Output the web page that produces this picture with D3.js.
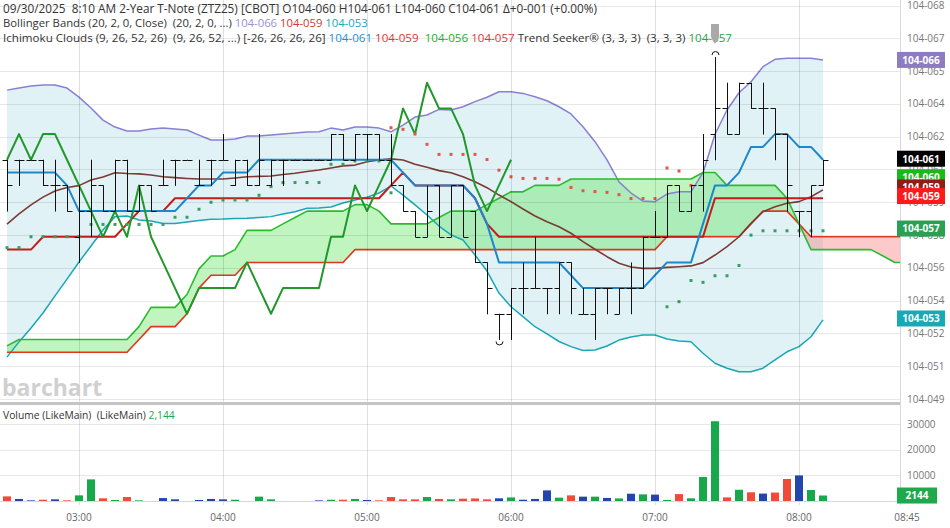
<!DOCTYPE html>
<html><head><meta charset="utf-8">
<script src="https://cdn.jsdelivr.net/npm/d3@7/dist/d3.min.js"></script>
<style>
body{margin:0;background:#fff;}
svg{display:block;font-family:"Open Sans",sans-serif;}
text{white-space:pre;}
</style></head><body>
<svg id="c" width="950" height="528"></svg>
<script>
// ---------- DATA (prices in 32nds above 104, e.g. 6.125 = 104-061) ----------
const opens = [6.125,6.125,6.125,6.125,6.0,6.0,5.75,5.875,6.0,5.875, 6.125,5.875,6.0,6.0,6.125,6.125,6.0,6.125,6.125,6.0, 6.125,6.0,6.0,6.125,6.125,6.125,6.125,6.125,6.25,6.125, 6.25,6.25,6.125,6.0,5.875,5.75,6.0,5.75,6.0,5.875, 5.625,5.375,5.375,5.5,5.5,5.5,5.5,5.625,5.375,5.375, 5.5,5.375,5.5,5.5,5.75,5.75,6.0,5.875,6.0,6.25, 6.375,6.25,6.5,6.375,6.375,6.25,5.875,5.875,6.0];
const highs = [6.125,6.125,6.125,6.125,6.125,6.0,6.0,6.125,6.0,6.125, 6.125,6.0,6.0,6.125,6.125,6.125,6.125,6.125,6.25,6.125, 6.125,6.25,6.125,6.125,6.125,6.125,6.125,6.25,6.25,6.25, 6.25,6.25,6.25,6.0,5.875,6.0,6.0,6.0,6.0,5.875, 5.625,5.375,5.5,5.625,5.75,5.5,5.625,5.625,5.5,5.5, 5.5,5.5,5.625,5.75,5.875,6.0,6.0,6.0,6.25,6.625, 6.5,6.5,6.5,6.5,6.375,6.25,5.875,6.0,6.125];
const lows = [5.875,6.0,6.125,6.0,5.875,5.875,5.625,5.75,5.875,5.875, 5.875,5.875,5.875,6.0,6.0,6.125,6.0,6.0,6.125,6.0, 6.0,6.0,6.0,6.0,6.125,6.125,6.125,6.125,6.125,6.125, 6.125,6.125,6.0,5.875,5.75,5.75,5.75,5.75,5.75,5.625, 5.375,5.25,5.25,5.375,5.5,5.375,5.375,5.375,5.375,5.25, 5.375,5.375,5.375,5.5,5.75,5.75,5.875,5.875,5.875,6.125, 6.25,6.25,6.375,6.25,6.125,5.875,5.75,5.75,6.0];
const closes = [6.0,6.125,6.125,6.0,6.0,5.875,5.875,6.0,5.875,6.125, 5.875,6.0,5.875,6.0,6.125,6.125,6.0,6.125,6.125,6.125, 6.0,6.125,6.125,6.125,6.125,6.125,6.125,6.25,6.125,6.25, 6.25,6.125,6.0,5.875,5.75,5.875,5.75,6.0,5.75,5.625, 5.5,5.375,5.5,5.5,5.5,5.5,5.625,5.5,5.375,5.5, 5.5,5.5,5.5,5.75,5.75,6.0,5.875,6.0,6.125,6.375, 6.25,6.5,6.375,6.375,6.25,6.0,5.875,6.0,6.125];
const volumes = [1800,800,250,500,650,250,2200,8450,1050,400, 1550,250,0,1150,650,0,400,800,650,500, 0,1700,650,0,0,0,250,500,500,800, 400,250,1550,650,650,1550,800,650,900,1000, 650,1050,1400,500,800,4150,1300,2200,1700,1700, 1200,1000,2850,2600,2500,400,2700,1050,9400,31200, 1400,4400,3400,2900,3300,8600,10000,4300,2144];

const bbUpper = [6.464,6.474,6.484,6.489,6.489,6.474,6.430,6.377,6.318,6.284, 6.265,6.265,6.275,6.279,6.275,6.270,6.245,6.221,6.221,6.226, 6.240,6.240,6.245,6.250,6.255,6.260,6.261,6.279,6.270,6.284, 6.284,6.279,6.261,6.294,6.333,6.343,6.370,6.367,6.383,6.408, 6.429,6.456,6.456,6.448,6.432,6.412,6.383,6.348,6.286,6.213, 6.124,6.017,5.963,5.924,5.921,5.958,5.969,5.969,6.062,6.249, 6.367,6.451,6.505,6.578,6.614,6.619,6.619,6.619,6.611];
const bbMiddle = [5.812,5.861,5.905,5.943,5.973,5.990,5.999,6.026,6.041,6.062, 6.058,6.056,6.051,6.042,6.038,6.034,6.031,6.031,6.031,6.036, 6.042,6.044,6.046,6.053,6.059,6.068,6.075,6.085,6.095,6.099, 6.115,6.124,6.129,6.124,6.103,6.088,6.072,6.062,6.042,6.018, 5.989,5.953,5.921,5.885,5.851,5.823,5.799,5.767,5.726,5.689, 5.653,5.621,5.603,5.596,5.596,5.601,5.604,5.608,5.624,5.661, 5.702,5.750,5.815,5.872,5.896,5.913,5.921,5.945,5.978];
const bbLower = [5.164,5.238,5.306,5.379,5.462,5.544,5.627,5.705,5.783,5.848, 5.851,5.832,5.827,5.815,5.815,5.822,5.829,5.835,5.836,5.839, 5.840,5.844,5.848,5.861,5.872,5.889,5.890,5.895,5.914,5.929, 5.942,5.963,5.997,5.953,5.905,5.856,5.802,5.759,5.734,5.661, 5.583,5.476,5.409,5.361,5.312,5.277,5.240,5.215,5.196,5.199, 5.218,5.247,5.262,5.272,5.272,5.252,5.242,5.239,5.183,5.134, 5.110,5.093,5.093,5.110,5.150,5.190,5.215,5.263,5.345];

const tenkan = [6.0625,6.0625,6.0625,6.0625,6.0625,6.0,5.875,5.875,5.875,5.875, 5.875,5.875,5.875,5.875,5.875,5.9375,6.0,6.0,6.0625,6.0625, 6.0625,6.125,6.125,6.125,6.125,6.125,6.125,6.125,6.125,6.125, 6.125,6.125,6.125,6.0625,6.0,6.0,6.0,6.0,6.0,5.9375, 5.8125,5.625,5.625,5.625,5.625,5.625,5.625,5.5625,5.5,5.5, 5.5,5.5,5.5,5.5,5.5625,5.625,5.625,5.625,5.8125,6.0, 6.0,6.0625,6.1875,6.1875,6.25,6.25,6.1875,6.1875,6.125];
const kijun = [5.6875,5.6875,5.6875,5.75,5.75,5.75,5.75,5.75,5.75,5.75, 5.8125,5.875,5.875,5.875,5.9375,5.9375,5.9375,5.9375,5.9375,5.9375, 5.9375,5.9375,5.9375,5.9375,5.9375,5.9375,5.9375,5.9375,5.9375,5.9375, 5.9375,5.9375,6.0,6.0625,6.0,6.0,6.0,6.0,6.0,5.9375, 5.8125,5.75,5.75,5.75,5.75,5.75,5.75,5.75,5.75,5.75, 5.75,5.75,5.75,5.75,5.75,5.75,5.75,5.75,5.75,5.9375, 5.9375,5.9375,5.9375,5.9375,5.9375,5.9375,5.9375,5.9375,5.9375];
const senkouA = [5.21875,5.25,5.25,5.25,5.25,5.25,5.25,5.25,5.25,5.25, 5.25,5.3125,5.40625,5.40625,5.40625,5.46875,5.59375,5.65625,5.65625,5.6875, 5.78125,5.78125,5.78125,5.8125,5.84375,5.875,5.875,5.875,5.875,5.90625, 5.90625,5.875,5.8125,5.8125,5.8125,5.8125,5.84375,5.875,5.875,5.875, 5.90625,5.9375,5.96875,5.96875,6.0,6.0,6.0,6.03125,6.03125,6.03125, 6.03125,6.03125,6.03125,6.03125,6.03125,6.03125,6.03125,6.03125,6.0625,6.0625, 6.0,6.0,6.0,6.0,6.0,5.9375,5.8125,5.6875,5.6875,5.6875, 5.6875,5.6875,5.6875,5.65625,5.625,5.625];
const senkouB = [5.1875,5.1875,5.1875,5.1875,5.1875,5.1875,5.1875,5.1875,5.1875,5.1875, 5.1875,5.25,5.3125,5.3125,5.3125,5.375,5.5,5.5625,5.5625,5.5625, 5.625,5.625,5.625,5.625,5.625,5.625,5.625,5.625,5.625,5.6875, 5.6875,5.6875,5.6875,5.6875,5.6875,5.6875,5.6875,5.6875,5.6875,5.6875, 5.6875,5.6875,5.6875,5.6875,5.6875,5.6875,5.6875,5.6875,5.6875,5.6875, 5.6875,5.6875,5.6875,5.6875,5.6875,5.75,5.75,5.75,5.75,5.75, 5.75,5.75,5.8125,5.875,5.875,5.875,5.8125,5.75,5.75,5.75, 5.75,5.75,5.75,5.75,5.75,5.75];
const chikouShift = 26;

const seekerUp = [5.697,5.697,5.750,5.750,5.750,5.750,5.750,5.810,5.810,5.810, 5.810,5.810,5.810,5.810,5.845,5.845,5.884,5.918,5.929,5.929, 5.929,5.952,5.994,6.014,6.014,6.014,6.014,6.103,6.103,6.119, 6.119,6.119,5.964,null,null,null,null,null,null,null, null,null,null,null,null,null,null,null,null,null, null,null,null,null,null,5.409,5.434,5.537,5.528,5.560, 5.560,5.610,5.758,5.779,5.779,5.779,5.779,5.779,5.779];
const seekerDown = [null,null,null,null,null,null,null,null,null,null, null,null,null,null,null,null,null,null,null,null, null,null,null,null,null,null,null,null,null,null, null,null,6.281,6.273,6.250,6.200,6.151,6.151,6.151,6.151, 6.126,6.074,6.042,6.034,6.034,6.034,6.030,5.990,5.974,5.970, 5.966,5.955,5.936,5.936,5.936,6.085,6.070,6.000,null,null, null,null,null,null,null,null,null,null,null];

const priceTickValues = [6.876,6.716,6.557,6.397,6.237,6.078,5.918,5.758,5.599,5.439,5.279,5.120,4.960];
const priceTickLabels = ["104-068","104-067","104-065","104-064","104-062","104-061","104-059","104-058","104-056","104-054","104-052","104-051","104-049"];
const volTickValues = [10000,20000,30000];
const volTickLabels = ["10000","20000","30000"];
const timeTickLabels = ["03:00","04:00","05:00","06:00","07:00","08:00","08:45"];

// right-axis value flags (drawn in this order; later ones on top)
const boxLabels = ["104-053","104-057","104-060","104-059","104-059","104-061","104-066"];
const boxValues = [5.352,5.790,6.040,5.990,5.948,6.130,6.611];
const boxColors = ["#17a9b5","#2aa052","#1bb81b","#8f1d16","#ff1a1a","#000000","#8e7cc3"];

// ---------- SCALES ----------
const svg = d3.select("#c");
const PR = 900; // plot right
const T0 = new Date(2025, 8, 30, 2, 30);
const timeAt = i => new Date(T0.getTime() + i * 5 * 60000);
const parseHM = s => { const [h, m] = s.split(":").map(Number); return new Date(2025, 8, 30, h, m); };
const x = d3.scaleTime().domain([parseHM("03:00"), parseHM("08:45")]).range([79, 907]);
const y = d3.scaleLinear().domain([4.96, 6.876]).range([399, 5.5]);
const yv = d3.scaleLinear().domain([0, 30000]).range([501, 424.3]);
const xi = i => x(timeAt(i));

svg.append("defs").append("clipPath").attr("id", "mainclip")
  .append("rect").attr("x", 0).attr("y", 0).attr("width", PR).attr("height", 402);

// ---------- MAIN PANEL ----------
const main = svg.append("g").attr("clip-path", "url(#mainclip)");

main.append("path").datum(bbUpper.map((u, i) => ({ i, u, l: bbLower[i] })))
  .attr("fill", "#e0f2f5")
  .attr("d", d3.area().x(d => xi(d.i)).y0(d => y(d.l)).y1(d => y(d.u)));

const cloud = senkouA.map((a, i) => ({ i, a, b: senkouB[i] }));
main.append("path").datum(cloud).attr("fill", "rgba(60,225,60,0.32)")
  .attr("d", d3.area().x(d => xi(d.i)).y0(d => y(d.b)).y1(d => y(Math.max(d.a, d.b))));
main.append("path").datum(cloud).attr("fill", "rgba(245,90,90,0.32)")
  .attr("d", d3.area().x(d => xi(d.i)).y0(d => y(d.a)).y1(d => y(Math.max(d.a, d.b))));

const grid = svg.append("g");
grid.selectAll("line.h").data(priceTickValues).join("line")
  .attr("x1", 0).attr("x2", PR).attr("y1", d => Math.round(y(d)) + 0.5).attr("y2", d => Math.round(y(d)) + 0.5)
  .attr("stroke", "rgba(0,0,0,0.09)");
grid.selectAll("line.vh").data(volTickValues).join("line")
  .attr("x1", 0).attr("x2", PR).attr("y1", d => Math.round(yv(d)) + 0.5).attr("y2", d => Math.round(yv(d)) + 0.5)
  .attr("stroke", "rgba(0,0,0,0.09)");
grid.selectAll("line.v").data(timeTickLabels.slice(0, 6)).join("line")
  .attr("x1", d => Math.round(x(parseHM(d))) + 0.5).attr("x2", d => Math.round(x(parseHM(d))) + 0.5)
  .attr("y1", 0).attr("y2", 505).attr("stroke", "rgba(0,0,0,0.12)");

const lineI = (arr, off = 0) => d3.line().defined(d => d != null).x((d, i) => xi(i + off)).y(d => y(d))(arr);
const drawLine = (arr, color, w, off = 0) =>
  main.append("path").attr("d", lineI(arr, off)).attr("fill", "none").attr("stroke", color)
    .attr("stroke-width", w).attr("stroke-linejoin", "round");

drawLine(bbUpper, "#8a7fd2", 1.5);
drawLine(bbLower, "#19a7b5", 1.5);
drawLine(senkouB, "#e0361c", 1.6);
drawLine(senkouA, "#2cba2c", 1.6);
drawLine(bbMiddle, "#7b3b33", 1.6);
drawLine(kijun, "#c81a1a", 2);
drawLine(tenkan, "#1d87cc", 2);
drawLine(closes.slice(chikouShift), "#20982a", 2);

main.selectAll("rect.up").data(seekerUp.map((v, i) => ({ v, i })).filter(d => d.v != null)).join("rect")
  .attr("x", d => xi(d.i) - 1.5).attr("y", d => y(d.v) - 1.5).attr("width", 3).attr("height", 3)
  .attr("fill", "#3a9d66");
main.selectAll("rect.dn").data(seekerDown.map((v, i) => ({ v, i })).filter(d => d.v != null)).join("rect")
  .attr("x", d => xi(d.i) - 1.5).attr("y", d => y(d.v) - 1.5).attr("width", 3).attr("height", 3)
  .attr("fill", "#e4564c");

const ohlc = main.append("g").attr("stroke", "#111").attr("stroke-width", 1);
opens.forEach((o, i) => {
  const cx = Math.round(xi(i)) + 0.5;
  ohlc.append("line").attr("x1", cx).attr("x2", cx).attr("y1", y(highs[i])).attr("y2", y(lows[i]) + 0.5);
  ohlc.append("line").attr("x1", cx - 5).attr("x2", cx).attr("y1", Math.round(y(o)) + 0.5).attr("y2", Math.round(y(o)) + 0.5);
  ohlc.append("line").attr("x1", cx).attr("x2", cx + 5).attr("y1", Math.round(y(closes[i])) + 0.5).attr("y2", Math.round(y(closes[i])) + 0.5);
});
const hiIdx = highs.indexOf(d3.max(highs)), loIdx = lows.indexOf(d3.min(lows));
const hx = Math.round(xi(hiIdx)) + 0.5, lx = Math.round(xi(loIdx)) + 0.5;
main.append("path").attr("d", `M${hx - 3.5},${y(highs[hiIdx]) - 2} a3.5,3.5 0 0 1 7,0`).attr("fill", "none").attr("stroke", "#111");
main.append("path").attr("d", `M${lx - 3.5},${y(lows[loIdx]) + 2} a3.5,3.5 0 0 0 7,0`).attr("fill", "none").attr("stroke", "#111");

svg.append("text").attr("x", 2).attr("y", 396).attr("font-size", 23).attr("font-weight", 700)
  .attr("fill", "#d0d0d0").attr("font-family", "Open Sans").text("barchart");

// ---------- HEADER ----------
const header = [
  { y: 13, size: 12.5, len: 594, parts: [["09/30/2025  8:10 AM 2-Year T-Note (ZTZ25) [CBOT] O104-060 H104-061 L104-060 C104-061 \u0394+0-001 (+0.00%)", "#333"]] },
  { y: 27, size: 11.3, parts: [["Bollinger Bands (20, 2, 0, Close)  (20, 2, 0, ...) ", "#333"], ["104-066 ", "#9a8fd8"], ["104-059 ", "#cc3a30"], ["104-053", "#19a7b5"]] },
  { y: 42, size: 11.6, parts: [["Ichimoku Clouds (9, 26, 52, 26)  (9, 26, 52, ...) [-26, 26, 26, 26] ", "#333"], ["104-061 ", "#1d8fd6"], ["104-059  ", "#e3342f"], ["104-056 ", "#22b022"], ["104-057", "#e3342f"], [" Trend Seeker\u00ae (3, 3, 3)  (3, 3, 3) ", "#333"], ["104-057", "#27a446"]] }
];
header.forEach(h => {
  const t = svg.append("text").attr("x", 3).attr("y", h.y).attr("font-size", h.size);
  if (h.len) t.attr("textLength", h.len).attr("lengthAdjust", "spacingAndGlyphs");
  h.parts.forEach(p => t.append("tspan").attr("fill", p[1]).text(p[0]));
});
const ax = Math.round(xi(hiIdx));
svg.append("path").attr("d", `M${ax - 4},24 h8 v13 l-4,7 l-4,-7 z`).attr("fill", "#a9a9a9");

// ---------- RIGHT AXIS ----------
svg.append("line").attr("x1", PR + 0.5).attr("x2", PR + 0.5).attr("y1", 0).attr("y2", 505).attr("stroke", "#d8d8d8");
svg.selectAll("text.pt").data(priceTickValues).join("text")
  .attr("x", 907).attr("y", d => y(d) + 3.5).attr("font-size", 10).attr("fill", "#777").text((d, i) => priceTickLabels[i]);
const boxes = svg.append("g");
boxLabels.forEach((lab, i) => {
  const cy = y(boxValues[i]);
  boxes.append("rect").attr("x", PR - 3).attr("y", cy - 8).attr("width", 48).attr("height", 16).attr("fill", boxColors[i]);
  boxes.append("text").attr("x", PR + 21).attr("y", cy + 3.8).attr("text-anchor", "middle").attr("font-size", 10)
    .attr("font-weight", 700).attr("fill", "#fff").text(lab);
});

// ---------- VOLUME PANEL ----------
svg.append("line").attr("x1", 0).attr("x2", PR).attr("y1", 403.5).attr("y2", 403.5).attr("stroke", "#c4c4c4").attr("stroke-width", 3);
svg.append("line").attr("x1", 0).attr("x2", PR).attr("y1", 501.5).attr("y2", 501.5).attr("stroke", "#d8d8d8");
svg.append("text").attr("x", 3).attr("y", 419).attr("font-size", 10.3)
  .call(t => { t.append("tspan").attr("fill", "#333").text("Volume (LikeMain)  (LikeMain) "); t.append("tspan").attr("fill", "#22a84a").text("2,144"); });
const volColor = i => closes[i] > opens[i] ? "#17a84b" : closes[i] < opens[i] ? "#f04a38" : "#2345ad";
svg.append("g").selectAll("rect").data(volumes).join("rect")
  .attr("x", (d, i) => xi(i) - 4).attr("width", 8)
  .attr("y", d => yv(d)).attr("height", d => yv(0) - yv(d))
  .attr("fill", (d, i) => volColor(i));
svg.selectAll("text.vt").data(volTickValues).join("text")
  .attr("x", 907).attr("y", d => yv(d) + 3.5).attr("font-size", 10).attr("fill", "#777").text((d, i) => volTickLabels[i]);
const lastV = volumes[volumes.length - 1];
svg.append("rect").attr("x", PR - 3).attr("y", yv(lastV) - 8).attr("width", 40).attr("height", 16).attr("fill", "#1fa84c");
svg.append("text").attr("x", PR + 17).attr("y", yv(lastV) + 3.8).attr("text-anchor", "middle").attr("font-size", 10)
  .attr("font-weight", 700).attr("fill", "#fff").text(String(lastV));

// ---------- TIME AXIS ----------
svg.selectAll("text.tt").data(timeTickLabels).join("text")
  .attr("x", d => x(parseHM(d))).attr("y", 521).attr("text-anchor", "middle").attr("font-size", 10)
  .attr("fill", "#666").text(d => d);
</script>
</body></html>
